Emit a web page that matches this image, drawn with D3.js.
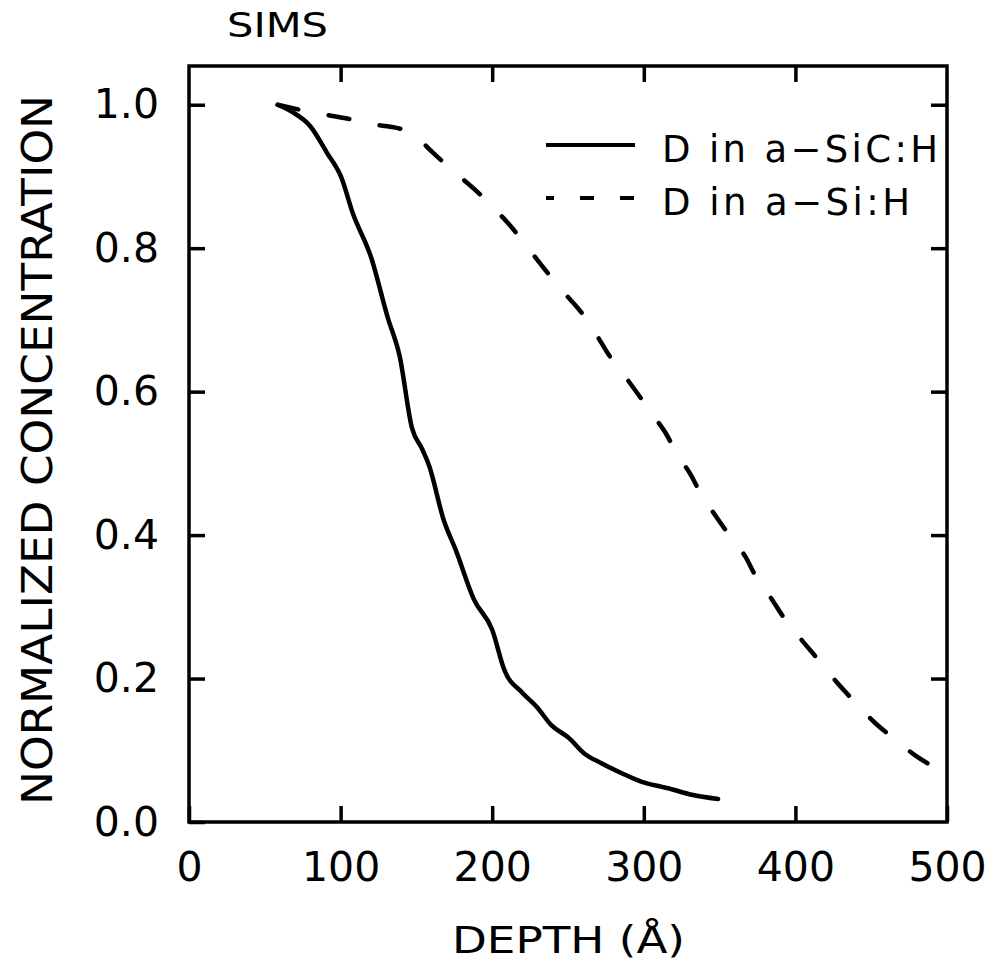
<!DOCTYPE html>
<html lang="en">
<head>
<meta charset="UTF-8">
<title>SIMS</title>
<style>
body{margin:0;background:#fff;}
text{font-family:"DejaVu Sans",sans-serif;fill:#000;}
</style>
</head>
<body>
<script src="https://cdn.jsdelivr.net/npm/d3@7/dist/d3.min.js"></script>
<script>
// D in a-SiC:H (solid)
var sicDepth=[58.5,68,80,91,100.6,108,120,131,139,147,154,158.5,168,176,188,200,208,220,229.6,239,250.7,260.5,272,285.5,298.7,312,316,331.6,349];
var sicConc=[1.000,0.990,0.970,0.933,0.898,0.849,0.788,0.704,0.649,0.550,0.519,0.496,0.421,0.379,0.310,0.268,0.212,0.180,0.160,0.135,0.117,0.096,0.082,0.068,0.056,0.049,0.047,0.038,0.032];
// D in a-Si:H (dashed)
var siDepth=[58.5,80,92.8,108,120,134,143,147,160.5,174,189.5,200,212.5,223,236,247,259,268,277,287,296.7,305,314.5,321.7,331,338,348,357,367,374,384,392,404,414,426,438,452.6,464.5,479,491];
var siConc=[1.000,0.990,0.985,0.979,0.973,0.969,0.964,0.960,0.934,0.908,0.880,0.858,0.830,0.802,0.767,0.739,0.710,0.682,0.651,0.623,0.595,0.570,0.542,0.514,0.484,0.456,0.425,0.398,0.370,0.342,0.312,0.286,0.254,0.229,0.198,0.170,0.138,0.117,0.093,0.077];

var xTicks=[0,100,200,300,400,500];
var yTicks=[0.0,0.2,0.4,0.6,0.8,1.0];
var legendLabels=["D in a\u2212SiC:H","D in a\u2212Si:H"];

var width=993,height=966;
var padding={top:66,left:189,right:46,bottom:144};

var svg=d3.select('body')
	.append('svg')
	.attr('width',width)
	.attr('height',height);

svg.append('rect').attr('width',width).attr('height',height).attr('fill','#fff');

var xScale=d3.scaleLinear()
	.domain([0,500])
	.range([padding.left,width-padding.right]);
var yScale=d3.scaleLinear()
	.domain([0,1.054])
	.range([height-padding.bottom,padding.top]);

var x0=xScale(0),x1=xScale(500),y0=yScale(0),y1=padding.top;

// axes, ticks pointing inward
var xAxis=d3.axisBottom(xScale).tickValues(xTicks).tickSizeInner(-16).tickSizeOuter(0).tickPadding(30).tickFormat(d3.format('d'));
var yAxis=d3.axisLeft(yScale).tickValues(yTicks).tickSizeInner(-16).tickSizeOuter(0).tickPadding(30).tickFormat(d3.format('.1f'));
var xTop=d3.axisTop(xScale).tickValues([100,200,300,400]).tickSizeInner(-16).tickSizeOuter(0).tickFormat('');
var yRight=d3.axisRight(yScale).tickValues([0.2,0.4,0.6,0.8,1.0]).tickSizeInner(-16).tickSizeOuter(0).tickFormat('');

function styleAxis(g){
	g.select('.domain').remove();
	g.selectAll('line').attr('stroke','#000').attr('stroke-width',3.5);
	g.selectAll('text').attr('font-family','DejaVu Sans').attr('font-size',41).attr('fill','#000');
}

svg.append('g').attr('transform','translate(0,'+y0+')').call(xAxis).call(styleAxis);
svg.append('g').attr('transform','translate('+x0+',0)').call(yAxis).call(styleAxis);
svg.append('g').attr('transform','translate(0,'+y1+')').call(xTop).call(styleAxis);
svg.append('g').attr('transform','translate('+x1+',0)').call(yRight).call(styleAxis);

// frame
svg.append('rect')
	.attr('x',x0).attr('y',y1)
	.attr('width',x1-x0).attr('height',y0-y1)
	.attr('fill','none').attr('stroke','#000').attr('stroke-width',3.5);

var line=d3.line()
	.x(function(d){return xScale(d[0]);})
	.y(function(d){return yScale(d[1]);})
	.curve(d3.curveMonotoneX);

svg.append('path')
	.datum(d3.zip(sicDepth,sicConc))
	.attr('d',line)
	.attr('fill','none').attr('stroke','#000').attr('stroke-width',4.5)
	.attr('stroke-linejoin','round').attr('stroke-linecap','round');

svg.append('path')
	.datum(d3.zip(siDepth,siConc))
	.attr('d',line)
	.attr('fill','none').attr('stroke','#000').attr('stroke-width',4.5)
	.attr('stroke-dasharray','21,31').attr('stroke-linecap','round');

// legend
var legend=svg.append('g');
legendLabels.forEach(function(t,i){
	var ly=145+i*53;
	legend.append('line')
		.attr('x1',546).attr('x2',635).attr('y1',ly).attr('y2',ly)
		.attr('stroke','#000').attr('stroke-width',4)
		.attr('stroke-dasharray',i==1?'14,26':null)
		.attr('stroke-dashoffset',i==1?6:null);
	legend.append('text')
		.attr('x',662).attr('y',ly+17)
		.attr('font-size',37)
		.attr('textLength',i==0?276:248)
		.attr('lengthAdjust','spacing')
		.text(t);
});

// titles
svg.append('text')
	.attr('x',227).attr('y',37)
	.attr('font-size',34)
	.attr('textLength',101).attr('lengthAdjust','spacingAndGlyphs')
	.text('SIMS');

svg.append('text')
	.attr('x',452).attr('y',953)
	.attr('font-size',37)
	.attr('textLength',233).attr('lengthAdjust','spacingAndGlyphs')
	.text('DEPTH (\u00c5)');

svg.append('text')
	.attr('transform','translate(52,450) rotate(-90)')
	.attr('text-anchor','middle')
	.attr('font-size',42)
	.attr('textLength',710).attr('lengthAdjust','spacingAndGlyphs')
	.text('NORMALIZED CONCENTRATION');
</script>
</body>
</html>
